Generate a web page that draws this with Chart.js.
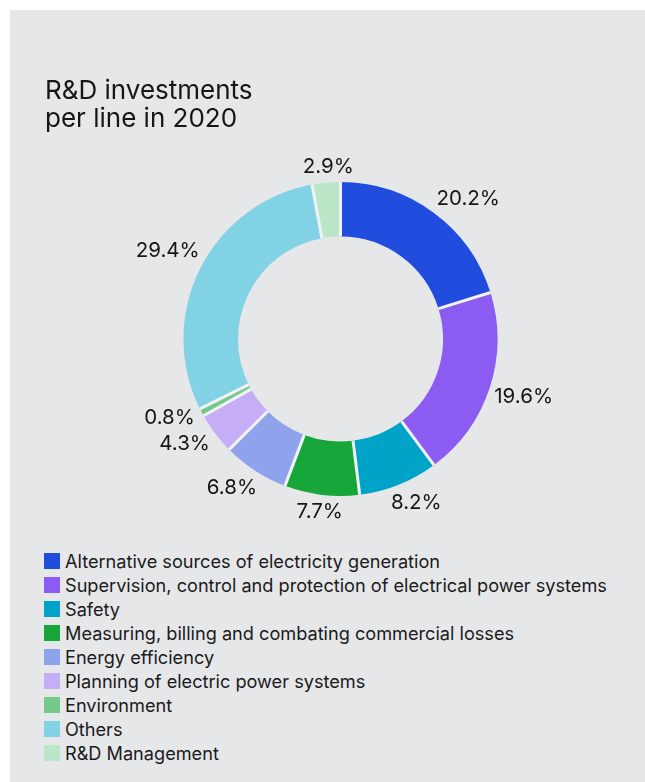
<!DOCTYPE html>
<html>
<head>
<meta charset="utf-8">
<title>R&amp;D investments per line in 2020</title>
<script src="https://cdn.jsdelivr.net/npm/chart.js@4.4.1/dist/chart.umd.min.js"></script>
<style>
  html, body { margin: 0; padding: 0; background: #fff; }
  body { width: 645px; height: 782px; overflow: hidden; font-family: Inter, sans-serif; }
  .panel { position: absolute; left: 10px; top: 10px; width: 635px; height: 772px; background: #e6e7e9; }
  .chart-box { position: absolute; left: 0; top: 0; width: 635px; height: 530px; }
  #leyenda { position: absolute; left: 34px; top: 539px; margin: 0; padding: 0; list-style: none; }
  #leyenda li { height: 24px; display: flex; align-items: center; font-size: 18.15px; color: #1b1b1b; white-space: nowrap; }
  #leyenda .caja { width: 16px; height: 16px; margin-right: 5px; flex: none; }
</style>
</head>
<body>
<div class="panel">
  <div class="chart-box"><canvas id="grafica"></canvas></div>
  <ul id="leyenda"></ul>
</div>
<script>
const categorias = [
    'Alternative sources of electricity generation',
    'Supervision, control and protection of electrical power systems',
    'Safety',
    'Measuring, billing and combating commercial losses',
    'Energy efficiency',
    'Planning of electric power systems',
    'Environment',
    'Others',
    'R&D Management'
];
const porcentajes = [20.2, 19.6, 8.2, 7.7, 6.8, 4.3, 0.8, 29.4, 2.9];
const colores = ['#214ddf', '#8c5cf2', '#00a3c8', '#17a63a', '#8fa3ec', '#c6aef7', '#74c98a', '#80d2e4', '#bce6c8'];
const etiquetas = porcentajes.map(v => v.toFixed(1) + '%');

// lineas claras entre segmentos
const separadores = {
    id: 'separadores',
    afterDatasetsDraw(chart) {
        const ctx = chart.ctx;
        const arcos = chart.getDatasetMeta(0).data;
        ctx.save();
        ctx.strokeStyle = '#f1f2f3';
        ctx.lineWidth = 3;
        arcos.forEach(arco => {
            const p = arco.getProps(['x', 'y', 'startAngle', 'innerRadius', 'outerRadius']);
            const c = Math.cos(p.startAngle);
            const s = Math.sin(p.startAngle);
            ctx.beginPath();
            ctx.moveTo(p.x + c * p.innerRadius, p.y + s * p.innerRadius);
            ctx.lineTo(p.x + c * p.outerRadius, p.y + s * p.outerRadius);
            ctx.stroke();
        });
        ctx.restore();
    }
};

// porcentaje afuera de cada segmento; giro = corrimiento en grados para que no se encimen
const etiquetasArco = {
    id: 'etiquetasArco',
    afterDatasetsDraw(chart, args, opts) {
        const ctx = chart.ctx;
        const arcos = chart.getDatasetMeta(0).data;
        const giro = opts.giro || [];
        ctx.save();
        ctx.font = '20.5px Inter';
        ctx.fillStyle = '#161616';
        ctx.textAlign = 'center';
        ctx.textBaseline = 'middle';
        arcos.forEach((arco, i) => {
            const p = arco.getProps(['x', 'y', 'startAngle', 'endAngle', 'outerRadius']);
            const medio = (p.startAngle + p.endAngle) / 2 + (giro[i] || 0) * Math.PI / 180;
            const texto = etiquetas[i];
            const w = ctx.measureText(texto).width;
            const dx = Math.cos(medio);
            const dy = Math.sin(medio);
            const r = p.outerRadius + 4 + Math.abs(dx) * w / 2 + Math.abs(dy) * 10;
            ctx.fillText(texto, p.x + dx * r, p.y + dy * r);
        });
        ctx.restore();
    }
};

const ctx = document.getElementById('grafica');
const grafica = new Chart(ctx, {
    type: 'doughnut',
    data: {
        labels: categorias,
        datasets: [{
            data: porcentajes,
            backgroundColor: colores,
            borderWidth: 0
        }]
    },
    options: {
        responsive: true,
        maintainAspectRatio: false,
        animation: false,
        cutout: '65.3%',
        layout: {
            padding: { left: 35, right: 9, top: 0, bottom: 44 }
        },
        plugins: {
            legend: { display: false },
            tooltip: { enabled: false },
            title: {
                display: true,
                text: ['R&D investments', 'per line in 2020'],
                align: 'start',
                color: '#161616',
                font: { family: 'Inter', size: 26, weight: 'normal', lineHeight: 1.077 },
                padding: { top: 67.5, bottom: 48.5 }
            },
            etiquetasArco: {
                giro: [5.9, -0.6, -3, 0, 3.2, 3.2, 3.1, 0.5, 1.2]
            }
        }
    },
    plugins: [separadores, etiquetasArco]
});

// leyenda en html, una categoria por renglon
const lista = document.getElementById('leyenda');
categorias.forEach((nombre, i) => {
    const li = document.createElement('li');
    const caja = document.createElement('span');
    caja.className = 'caja';
    caja.style.background = colores[i];
    li.appendChild(caja);
    li.appendChild(document.createTextNode(nombre));
    lista.appendChild(li);
});
</script>
</body>
</html>
